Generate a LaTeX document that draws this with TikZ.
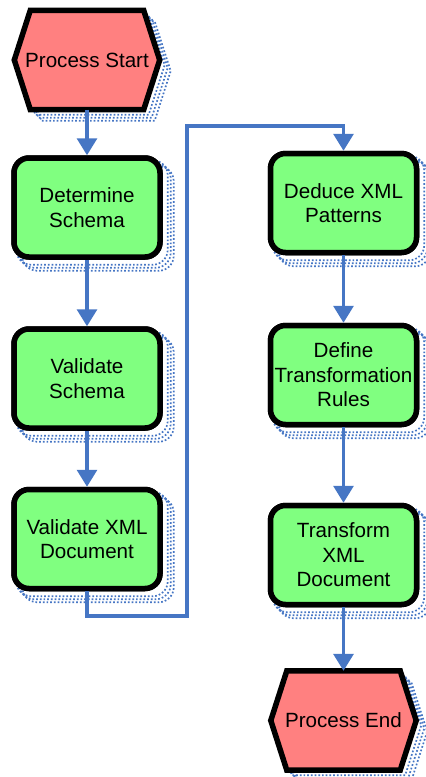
\documentclass[tikz,border=0pt]{standalone}
\usepackage{fontspec}
\setmainfont{Liberation Sans}
\usetikzlibrary{arrows.meta,backgrounds}

\definecolor{termred}{RGB}{255,128,128}
\definecolor{stepgreen}{RGB}{128,255,128}
\definecolor{flowblue}{RGB}{70,118,196}

\tikzset{
  labeltext/.style={font=\fontsize{20.6}{24.5}\selectfont, align=center, inner sep=0pt},
  stepbox/.style={labeltext, draw=black, line width=5.5pt, fill=stepgreen,
    rounded corners=15pt, minimum width=146pt, minimum height=99pt},
  termbox/.style={labeltext, minimum width=145pt, minimum height=99pt},
  termline/.style={draw=black, line width=5.5pt, fill=termred, line join=miter},
  flow/.style={draw=flowblue, line width=3.2pt,
    -{Triangle[width=20pt,length=17pt]}},
  shade/.style={draw=flowblue, line width=1.7pt, dotted},
}

% hexagonal terminator outline around a text node: style, offset, node
\newcommand{\hexpath}[3]{%
  \path[#1] ([shift={(#2,#2)}]#3.west) -- ([shift={(#2+16,#2)}]#3.north west) --
  ([shift={(#2-16,#2)}]#3.north east) -- ([shift={(#2,#2)}]#3.east) --
  ([shift={(#2-16,#2)}]#3.south east) -- ([shift={(#2+16,#2)}]#3.south west) -- cycle;}

% dotted drop shadow of a rounded step box
\newcommand{\boxshade}[1]{%
  \foreach \d in {5,8,11}{
    \draw[shade, rounded corners=15pt] ([shift={(\d,\d)}]#1.north west)
      rectangle ([shift={(\d,\d)}]#1.south east);}}

\begin{document}
\begin{tikzpicture}[x=1pt, y=-1pt]
\useasboundingbox (0,0) rectangle (426,777);

% left column
\node[termbox]  (start)  at (87,60)    {Process Start};
\node[stepbox]  (detsch) at (87,207.5) {Determine\\Schema};
\node[stepbox]  (valsch) at (87,378.5) {Validate\\Schema};
\node[stepbox]  (valxml) at (87,539)   {Validate XML\\Document};

% right column
\node[stepbox]  (deduce) at (343.5,203)   {Deduce XML\\Patterns};
\node[stepbox]  (rules)  at (343.5,375)   {Define\\Transformation\\Rules};
\node[stepbox]  (trans)  at (343.5,555)   {Transform\\XML\\Document};
\node[termbox]  (finish) at (343.5,720.5) {Process End};

\begin{scope}[on background layer]
  \foreach \d in {5,8,11}{
    \hexpath{shade}{\d}{start}
    \hexpath{shade}{\d}{finish}
  }
  \boxshade{detsch}
  \boxshade{valsch}
  \boxshade{valxml}
  \boxshade{deduce}
  \boxshade{rules}
  \boxshade{trans}
  \hexpath{termline}{0}{start}
  \hexpath{termline}{0}{finish}
\end{scope}

% step boxes again, above their shadows
\node[stepbox]  at (detsch) {Determine\\Schema};
\node[stepbox]  at (valsch) {Validate\\Schema};
\node[stepbox]  at (valxml) {Validate XML\\Document};
\node[stepbox]  at (deduce) {Deduce XML\\Patterns};
\node[stepbox]  at (rules)  {Define\\Transformation\\Rules};
\node[stepbox]  at (trans)  {Transform\\XML\\Document};

% connectors
\coordinate (low)  at (187,616);
\coordinate (high) at (187,126);

\draw[flow] (start.south)  -- (detsch.north);
\draw[flow] (detsch.south) -- (valsch.north);
\draw[flow] (valsch.south) -- (valxml.north);
\draw[flow] (valxml.south) |- (low) -- (high) -| (deduce.north);
\draw[flow] (deduce.south) -- (rules.north);
\draw[flow] (rules.south)  -- (trans.north);
\draw[flow] (trans.south)  -- (finish.north);
\end{tikzpicture}
\end{document}
